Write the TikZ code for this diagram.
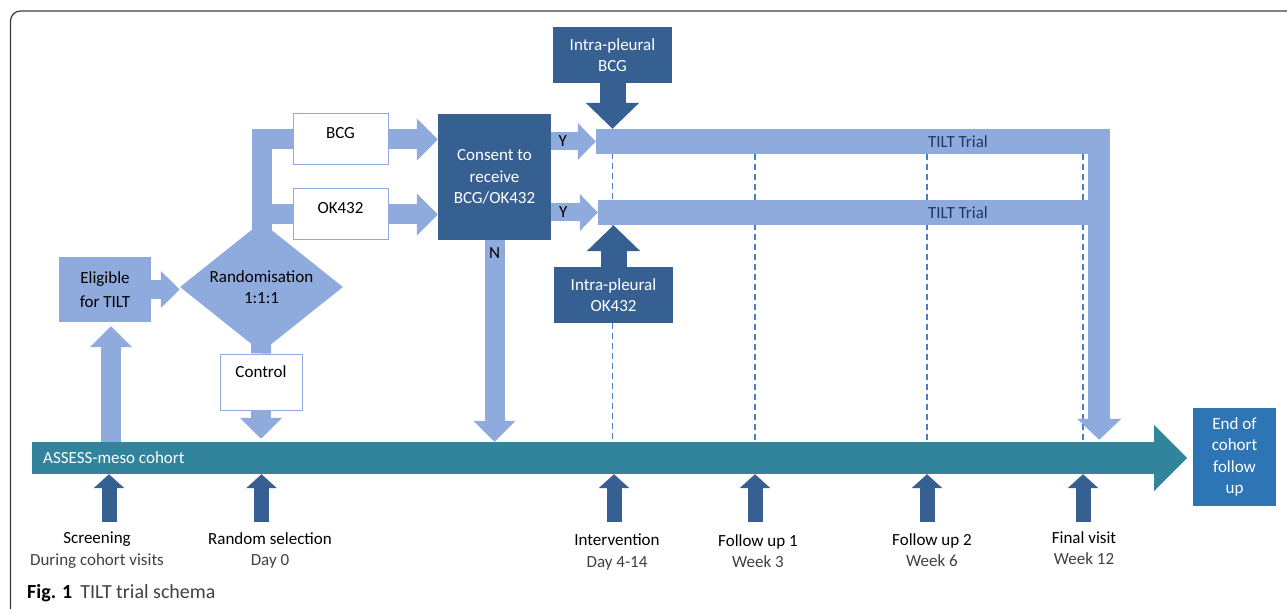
\documentclass[tikz,border=0pt]{standalone}
\usepackage{fontspec}
\setmainfont{Carlito}
\usepackage{xcolor}
\usetikzlibrary{arrows.meta, positioning, shapes.geometric, backgrounds, calc}

\definecolor{paleblue}{HTML}{8FAADC}
\definecolor{navy}{HTML}{366092}
\definecolor{cohortteal}{HTML}{31849B}
\definecolor{endblue}{HTML}{2E75B6}
\definecolor{trialtext}{HTML}{1F3864}
\definecolor{subgray}{HTML}{404040}
\definecolor{dashblue}{HTML}{4A7EC4}
\definecolor{framegray}{HTML}{3A3A3A}

\begin{document}
\begin{tikzpicture}[x=1pt, y=-1pt,
    every node/.style={font=\fontsize{17}{21.5}\selectfont},
    whitebox/.style={rectangle, draw=paleblue, line width=1pt, fill=white, minimum width=95pt, minimum height=51pt, inner sep=0pt, text height=12pt, text depth=14pt},
    darkbox/.style={rectangle, fill=navy, text=white, align=center, inner sep=0pt},
    trialbar/.style={rectangle, fill=paleblue, minimum height=25pt, inner sep=0pt},
    fat/.style={draw=paleblue, line width=20pt, -{Triangle[length=21pt, width=41pt]}},
    bar/.style={draw=paleblue, line width=20pt, line join=miter},
    inject/.style={draw=navy, line width=26pt, -{Triangle[length=26pt, width=52pt]}},
    pin/.style={draw=navy, line width=15pt, -{Triangle[length=14pt, width=30pt]}},
    stamp/.style={anchor=north, align=center, inner sep=0pt},
    visit/.style={draw=dashblue, line width=1.3pt, dash pattern=on 6pt off 4pt},
]
\useasboundingbox (0,0) rectangle (1287,609);

% Frame
\draw[framegray, line width=1.2pt, rounded corners=10pt] (10.5,640) -- (10.5,11) -- (1320,11);

% Nodes
\node[rectangle, fill=paleblue, minimum width=92pt, minimum height=65pt, align=center, inner sep=0pt, font=\fontsize{17}{24}\selectfont] (elig) at (105,289.5) {Eligible\\for TILT};
\node[diamond, fill=paleblue, aspect=1.25, minimum width=163pt, minimum height=130pt, inner sep=0pt, align=center] (rand) at (261.5,287) {Randomisation\\1:1:1};
\node[whitebox] (bcg) at (340.5,139.5) {BCG};
\node[whitebox] (ok) at (340.5,214.5) {OK432};
\node[whitebox, minimum width=82pt, minimum height=56pt, text depth=21pt] (ctrl) at (261,382) {Control};
\node[darkbox, minimum width=113pt, minimum height=126pt] (consent) at (494.5,177) {Consent to\\receive\\BCG/OK432};
\node[darkbox, minimum width=119pt, minimum height=56pt] (ipbcg) at (612.5,55) {Intra-pleural\\BCG};
\node[darkbox, minimum width=119pt, minimum height=56pt] (ipok) at (613.5,295) {Intra-pleural\\OK432};
\node[darkbox, fill=endblue, minimum width=83pt, minimum height=98pt] (endfu) at (1234.5,457) {End of\\cohort\\follow\\up};

% Trial bars
\node[trialbar, minimum width=503pt] (tiltA) at (847.5,141.5) {};
\node[trialbar, minimum width=490pt] (tiltB) at (843,212.5) {};
\node[text=trialtext] (tiltAtxt) at (958,141.5) {TILT Trial};
\node[text=trialtext] (tiltBtxt) at (958,212.5) {TILT Trial};

% Cohort
\node[rectangle, fill=cohortteal, minimum width=1122pt, minimum height=32pt, inner sep=0pt] (cohort) at (593,458) {};
\fill[cohortteal] ([yshift=33pt]cohort.east) -- ([xshift=33pt]cohort.east) -- ([yshift=-33pt]cohort.east) -- cycle;
\node[text=white, anchor=west, inner sep=0pt] (cohorttxt) at (43,458) {ASSESS-meso cohort};

% Timeline
\coordinate (tScreen) at (109,522);
\coordinate (tRand) at (261.5,522);
\coordinate (tInt) at (614,522);
\coordinate (tFu1) at (755,522);
\coordinate (tFu2) at (927,522);
\coordinate (tFin) at (1083,522);

\node[stamp] (screen) at (97,532) {Screening\\\textcolor{subgray}{During cohort visits}};
\node[stamp] (randsel) at (270,532) {Random selection\\\textcolor{subgray}{Day 0}};
\node[stamp] (interv) at (617,534) {Intervention\\\textcolor{subgray}{Day 4-14}};
\node[stamp] (fu1) at (758,534) {Follow up 1\\\textcolor{subgray}{Week 3}};
\node[stamp] (fu2) at (932,533) {Follow up 2\\\textcolor{subgray}{Week 6}};
\node[stamp] (final) at (1084,531) {Final visit\\\textcolor{subgray}{Week 12}};

\node[anchor=base west, inner sep=0pt, font=\fontsize{20}{24}\selectfont] (caption) at (27,598) {\textbf{Fig. 1}\hspace{8pt}\textcolor{subgray}{TILT trial schema}};

% Edges
\begin{scope}[on background layer]
\draw[visit] (ipbcg.south) -- (ipbcg.south |- cohort.north);
\draw[visit] (tFu1 |- tiltA.south) -- (tFu1 |- cohort.north);
\draw[visit] (tFu2 |- tiltA.south) -- (tFu2 |- cohort.south);
\draw[visit] (tFin |- tiltA.south) -- (tFin |- cohort.north);
\draw[bar] (rand.center) |- (bcg.west);
\draw[bar] (rand.center) |- (ok.west);
\draw[bar] (rand.center) -- (ctrl.north);
\end{scope}

\draw[fat, line width=19pt, -{Triangle[length=19pt, width=36pt]}] (elig.east) -- (elig.east -| rand.west);
\draw[fat] ($(elig.south |- cohort.north)+(6,0)$) -- ($(elig.south)+(6,4)$);
\draw[fat] (bcg.east) -- (bcg.east -| consent.west);
\draw[fat] (ok.east) -- (ok.east -| consent.west);
\draw[fat, shorten >=3pt] (ctrl.south) -- (ctrl.south |- cohort.north);

\draw[fat, line width=18pt, -{Triangle[length=18pt, width=36pt]}] (consent.east |- tiltA.west) -- node[pos=0.26, text=black] {Y} (tiltA.west);
\draw[fat, line width=18pt, -{Triangle[length=18pt, width=36pt]}] (consent.east |- tiltB.west) -- node[pos=0.26, text=black] {Y} (tiltB.west);
\draw[fat] (consent.south) -- node[pos=0.065, text=black] {N} (consent.south |- cohort.north);

\draw[inject] (ipbcg.south) -- (ipbcg.south |- tiltA.north);
\draw[inject] (ipok.north) -- (ipok.north |- tiltB.south);
\draw[fat, line width=22pt, -{Triangle[length=21pt, width=43pt]}, shorten >=2pt] (tiltA.north east) -- (tiltA.north east |- cohort.north);

\draw[pin] (tScreen) -- (tScreen |- cohort.south);
\draw[pin] (tRand) -- (tRand |- cohort.south);
\draw[pin] (tInt) -- (tInt |- cohort.south);
\draw[pin] (tFu1) -- (tFu1 |- cohort.south);
\draw[pin] (tFu2) -- (tFu2 |- cohort.south);
\draw[pin] (tFin) -- (tFin |- cohort.south);

\end{tikzpicture}
\end{document}
